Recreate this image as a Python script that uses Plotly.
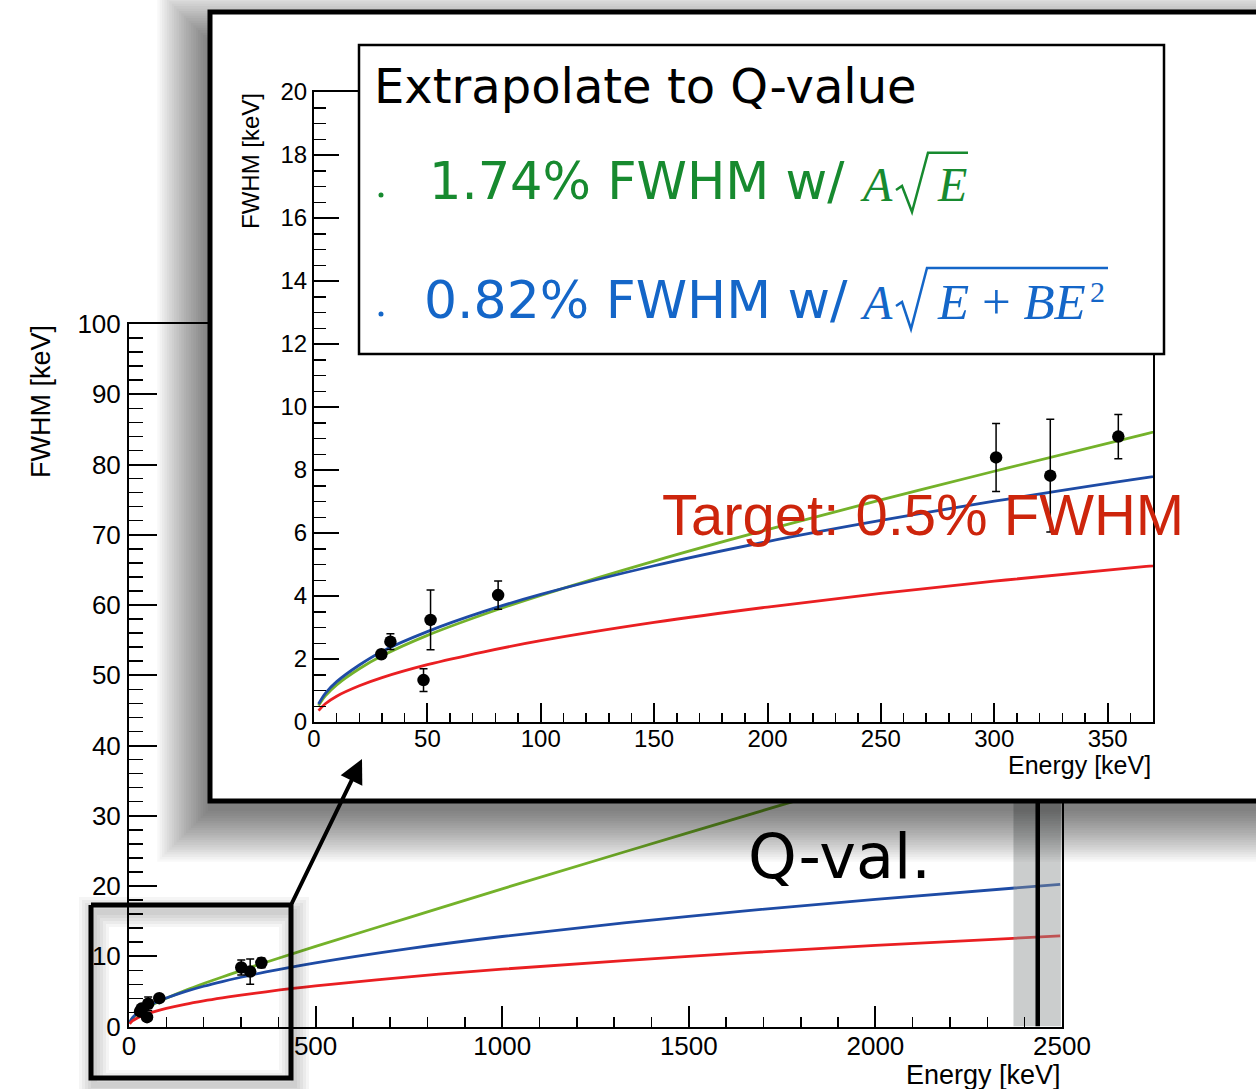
import plotly.graph_objects as go

# ---------------- data ----------------
# measured resolution points
E_data = [29.7, 33.7, 48.3, 51.4, 81.2, 300.8, 324.7, 354.7]
fwhm_data = [2.15, 2.55, 1.33, 3.24, 4.03, 8.40, 7.82, 9.06]
fwhm_err = [0.12, 0.25, 0.36, 0.95, 0.45, 1.08, 1.79, 0.70]

# fitted / extrapolated curves
E_fit = [2, 5, 10, 20, 30, 50, 75, 100, 150, 200, 250, 300, 367, 500, 750, 1000, 1500, 2000, 2495]
fit_green = [0.52, 0.83, 1.18, 1.69, 2.10, 2.75, 3.42, 4.02, 5.11, 6.11, 7.05, 7.96, 9.15, 11.4, 15.5, 19.6, 27.6, 35.5, 43.3]
fit_blue = [0.57, 0.91, 1.28, 1.81, 2.24, 2.87, 3.51, 4.05, 4.96, 5.73, 6.40, 7.01, 7.76, 9.06, 11.09, 12.81, 15.69, 18.11, 20.23]
fit_red = [0.36, 0.58, 0.82, 1.15, 1.41, 1.82, 2.23, 2.58, 3.16, 3.65, 4.08, 4.47, 4.94, 5.77, 7.07, 8.16, 9.99, 11.54, 12.89]

Q_VALUE = 2435
Q_BAND = [2370, 2497]

main_x_range = [0, 2500]
main_y_range = [0, 100]
inset_x_range = [0, 370]
inset_y_range = [0, 20]

# ---------------- style ----------------
W, H = 1256, 1089
SANS = "Liberation Sans, Arial, Helvetica, sans-serif"
ROUND = "DejaVu Sans, sans-serif"
SERIF = "Liberation Serif, Times New Roman, serif"
C_GREEN = "#74b22a"
C_BLUE = "#1e4ba5"
C_RED = "#ea1f22"
T_GREEN = "#178a2f"
T_BLUE = "#1466c8"
T_RED = "#cd250c"
LW = 2.8


def px(x):
    return x / W


def py(y):
    return 1 - y / H


fig = go.Figure()

# ---------------- main plot ----------------
for vals, col in [(fit_green, C_GREEN), (fit_blue, C_BLUE), (fit_red, C_RED)]:
    fig.add_trace(go.Scatter(x=E_fit, y=vals, mode="lines",
                             line=dict(color=col, width=LW, shape="spline"),
                             xaxis="x", yaxis="y", hoverinfo="skip"))

fig.add_trace(go.Scatter(x=[Q_BAND[0], Q_BAND[1], Q_BAND[1], Q_BAND[0], Q_BAND[0]],
                         y=[0, 0, 100, 100, 0], mode="lines", fill="toself",
                         fillcolor="rgba(140,145,145,0.45)", line=dict(width=0),
                         xaxis="x", yaxis="y", hoverinfo="skip"))
fig.add_trace(go.Scatter(x=[Q_VALUE, Q_VALUE], y=[0, 100], mode="lines",
                         line=dict(color="black", width=4.5),
                         xaxis="x", yaxis="y", hoverinfo="skip"))
fig.add_trace(go.Scatter(x=E_data, y=fwhm_data, mode="markers",
                         marker=dict(size=12.5, color="black"),
                         error_y=dict(type="data", array=fwhm_err, color="black",
                                      thickness=1.5, width=4),
                         xaxis="x", yaxis="y", hoverinfo="skip"))

# ---------------- pixel canvas (x2/y2) for the inset panel decoration ----------------
BX0, BY0, BX1, BY1 = 210, 12, 1330, 801
for i in range(1, 23):
    r = 2.4 * i
    x0, x1 = BX0 - r, BX1 + r
    y0, y1 = BY0 + 30 - r, BY1 + 8 + r
    fig.add_trace(go.Scatter(x=[x0, x1, x1, x0, x0], y=[y0, y0, y1, y1, y0],
                             mode="lines", fill="toself",
                             fillcolor="rgba(0,0,0,0.028)", line=dict(width=0),
                             xaxis="x2", yaxis="y2", hoverinfo="skip"))
fig.add_trace(go.Scatter(x=[BX0, BX1, BX1, BX0, BX0], y=[BY0, BY0, BY1, BY1, BY0],
                         mode="lines", fill="toself", fillcolor="white",
                         line=dict(width=0), xaxis="x2", yaxis="y2", hoverinfo="skip"))
fig.add_trace(go.Scatter(x=[BX1, BX0, BX0, BX1], y=[BY0, BY0, BY1, BY1],
                         mode="lines", line=dict(color="black", width=5),
                         xaxis="x2", yaxis="y2", hoverinfo="skip"))

# small zoom box at bottom-left with soft shadow
SX0, SY0, SX1, SY1 = 91, 905, 291, 1078


def ring(x0, y0, x1, y1, r):
    ox0, oy0, ox1, oy1 = x0 - r, y0 - r, x1 + r, y1 + r
    ix0, iy0, ix1, iy1 = x0 + r, y0 + r, x1 - r, y1 - r
    xs = [ox0, ox1, ox1, ox0, ox0, ix0, ix0, ix1, ix1, ix0, ox0]
    ys = [oy0, oy0, oy1, oy1, oy0, iy0, iy1, iy1, iy0, iy0, oy0]
    return xs, ys


for r in [3, 6, 9, 12, 15]:
    xs, ys = ring(SX0 + 3, SY0 + 7, SX1 + 3, SY1 + 7, r)
    fig.add_trace(go.Scatter(x=xs, y=ys, mode="lines", fill="toself",
                             fillcolor="rgba(0,0,0,0.04)", line=dict(width=0),
                             xaxis="x2", yaxis="y2", hoverinfo="skip"))
fig.add_trace(go.Scatter(x=[SX0, SX1, SX1, SX0, SX0], y=[SY0, SY0, SY1, SY1, SY0],
                         mode="lines", line=dict(color="black", width=5),
                         xaxis="x2", yaxis="y2", hoverinfo="skip"))

# ---------------- inset plot (x3/y3) ----------------
for vals, col in [(fit_green, C_GREEN), (fit_blue, C_BLUE), (fit_red, C_RED)]:
    fig.add_trace(go.Scatter(x=E_fit, y=vals, mode="lines",
                             line=dict(color=col, width=LW, shape="spline"),
                             xaxis="x3", yaxis="y3", hoverinfo="skip"))
fig.add_trace(go.Scatter(x=E_data, y=fwhm_data, mode="markers",
                         marker=dict(size=12.5, color="black"),
                         error_y=dict(type="data", array=fwhm_err, color="black",
                                      thickness=1.5, width=4),
                         xaxis="x3", yaxis="y3", hoverinfo="skip"))

# ---------------- axes ----------------
common = dict(showline=True, linecolor="black", linewidth=2, mirror=True,
              ticks="inside", tickcolor="black", tickwidth=2,
              showgrid=False, zeroline=False)

fig.update_layout(
    width=W, height=H,
    margin=dict(l=0, r=0, t=0, b=0, pad=0, autoexpand=False),
    paper_bgcolor="white", plot_bgcolor="rgba(0,0,0,0)",
    showlegend=False,
    xaxis=dict(**common, domain=[px(129), px(1062)], range=main_x_range,
               dtick=500, tick0=0, ticklen=21, anchor="y", ticklabelstandoff=-5,
               tickfont=dict(family=SANS, size=26, color="black"),
               minor=dict(dtick=100, ticklen=10, tickwidth=1.5, ticks="inside",
                          tickcolor="black")),
    yaxis=dict(**common, domain=[py(1026.5), py(324)], range=main_y_range,
               dtick=10, tick0=0, ticklen=28, anchor="x", ticklabelstandoff=1,
               tickfont=dict(family=SANS, size=26, color="black"),
               minor=dict(dtick=2, ticklen=14, tickwidth=1.5, ticks="inside",
                          tickcolor="black")),
    xaxis2=dict(domain=[0, 1], range=[0, W], visible=False, anchor="y2"),
    yaxis2=dict(domain=[0, 1], range=[H, 0], visible=False, anchor="x2"),
    xaxis3=dict(**common, domain=[px(314), px(1153)], range=inset_x_range,
                dtick=50, tick0=0, ticklen=19, anchor="y3", ticklabelstandoff=-6,
                tickfont=dict(family=SANS, size=24, color="black"),
                minor=dict(dtick=10, ticklen=9, tickwidth=1.5, ticks="inside",
                           tickcolor="black")),
    yaxis3=dict(**common, domain=[py(722), py(92)], range=inset_y_range,
                dtick=2, tick0=0, ticklen=25, anchor="x3",
                tickfont=dict(family=SANS, size=24, color="black"),
                minor=dict(dtick=0.5, ticklen=12, tickwidth=1.5, ticks="inside",
                           tickcolor="black")),
)

# ---------------- shapes ----------------
shapes = [
    dict(type="rect", xref="x2", yref="y2", x0=359, y0=45, x1=1164, y1=354,
         fillcolor="white", line=dict(color="black", width=2.5), layer="above"),
    dict(type="path", xref="x2", yref="y2",
         path="M 896,190 L 902,186 L 912,212 L 928,152.7 L 968,152.7",
         line=dict(color=T_GREEN, width=2.5), layer="above"),
    dict(type="path", xref="x2", yref="y2",
         path="M 896,306 L 902,302 L 911,329 L 927,268 L 1108,268",
         line=dict(color=T_BLUE, width=2.5), layer="above"),
    dict(type="circle", xref="x2", yref="y2", x0=378.5, x1=383.5, y0=192.5, y1=197.5,
         fillcolor=T_GREEN, line=dict(width=0), layer="above"),
    dict(type="circle", xref="x2", yref="y2", x0=378.5, x1=383.5, y0=311.5, y1=316.5,
         fillcolor=T_BLUE, line=dict(width=0), layer="above"),
]
fig.update_layout(shapes=shapes)


# ---------------- annotations ----------------
def txt(x, y, text, size, family=SANS, color="black", xanchor="left", angle=0):
    return dict(xref="x2", yref="y2", x=x, y=y, text=text, showarrow=False,
                xanchor=xanchor, yanchor="middle", textangle=angle,
                font=dict(family=family, size=size, color=color))


ann = [
    txt(41, 402, "FWHM [keV]", 27, angle=-90, xanchor="center"),
    txt(1063, 1075, "Energy [keV]", 27, xanchor="right"),
    txt(250, 161, "FWHM [keV]", 24, angle=-90, xanchor="center"),
    txt(1153, 765, "Energy [keV]", 25, xanchor="right"),
    txt(372, 86, "Extrapolate to Q-value", 48, family=ROUND),
    txt(427, 181, "1.74% FWHM w/", 51, family=ROUND, color=T_GREEN),
    txt(858, 184, "<i>A</i>", 48, family=SERIF, color=T_GREEN),
    txt(935, 184, "<i>E</i>", 48, family=SERIF, color=T_GREEN),
    txt(422, 300, "0.82% FWHM w/", 52, family=ROUND, color=T_BLUE),
    txt(858, 302, "<i>A</i>", 48, family=SERIF, color=T_BLUE),
    txt(935, 302, "<i>E</i> + <i>BE</i>", 51, family=SERIF, color=T_BLUE),
    txt(1088, 291, "2", 30, family=SERIF, color=T_BLUE),
    txt(660, 514, "Target: 0.5% FWHM", 58, color=T_RED),
    txt(746, 856, "Q-val.", 62, family=ROUND),
    dict(xref="x2", yref="y2", axref="x2", ayref="y2", x=362, y=759, ax=291, ay=905,
         text="", showarrow=True, arrowhead=2, arrowsize=1.2, arrowwidth=4,
         arrowcolor="black", standoff=0),
]
fig.update_layout(annotations=ann)

fig.write_html(
    "out.html",
    config={"displayModeBar": False, "staticPlot": True},
    post_script="document.documentElement.style.margin='0px';"
                "document.body.style.margin='0px';"
                "document.body.style.overflow='hidden';",
)
